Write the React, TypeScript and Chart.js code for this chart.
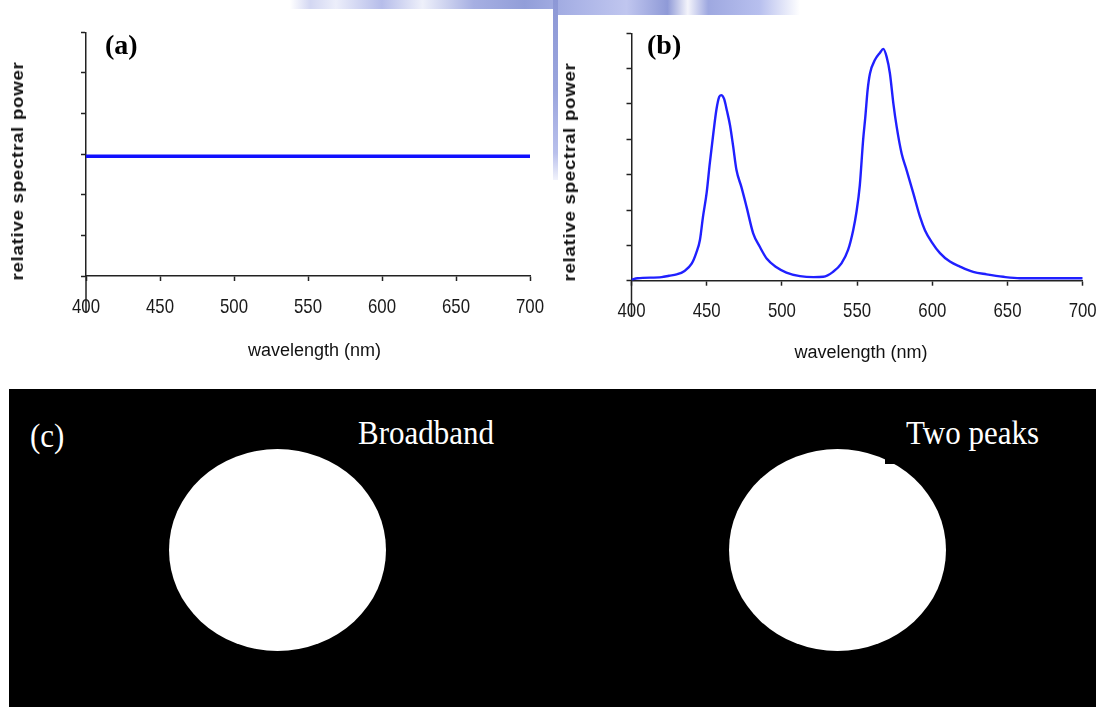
import React, { useEffect, useRef } from 'react';
import { Chart, registerables } from 'chart.js';

Chart.register(...registerables);

// ---------- data ----------
const xTickValues = [400, 450, 500, 550, 600, 650, 700];
const yTicksA = [0, 1, 2, 3, 4, 5, 6];
const yTicksB = [0, 1, 2, 3, 4, 5, 6, 7];

const broadbandNm = [400, 700];
const broadbandPower = [2.95, 2.95];

const twoPeakNm = [
  400, 404, 420, 425, 430, 435, 440, 443, 445.5, 447.5, 450, 452, 454.5, 456.5, 458.3, 459.6,
  461.5, 463.5, 465.5, 467.6, 469.8, 473, 476.5, 480.9, 485.3, 490, 496.4, 503, 512, 521, 527.5,
  534, 539.6, 544, 547.4, 549.6, 551.8, 554, 555.5, 557, 558.6, 561.9, 565.2, 567.4, 569.6,
  571.8, 574.1, 576.3, 579.6, 582.9, 587.4, 591.8, 595.1, 599.5, 605.1, 611.7, 618.4, 627.2,
  636.1, 647.2, 658.3, 676, 700,
];
const twoPeakPower = [
  0.03, 0.07, 0.1, 0.14, 0.18, 0.27, 0.48, 0.78, 1.15, 1.8, 2.5, 3.3, 4.2, 4.85, 5.2, 5.25,
  5.15, 4.8, 4.4, 3.8, 3.13, 2.66, 2.09, 1.34, 0.96, 0.62, 0.38, 0.23, 0.13, 0.1, 0.11,
  0.25, 0.49, 0.87, 1.43, 1.95, 2.7, 3.98, 4.65, 5.4, 5.87, 6.25, 6.45, 6.56, 6.34,
  5.87, 5.02, 4.36, 3.6, 3.13, 2.47, 1.81, 1.43, 1.1, 0.78, 0.54, 0.4, 0.25,
  0.18, 0.11, 0.07, 0.07, 0.07,
];

const yAxisTitle = 'relative spectral power';
const xAxisTitle = 'wavelength (nm)';
const panelLabels = ['(a)', '(b)', '(c)'];
const spotLabels = ['Broadband', 'Two peaks'];

// ---------- chart helpers ----------
const AXIS_COLOR = '#222';
const TICK_FONT = "'Liberation Sans', Arial, sans-serif";

// y axis line continues a little below the x axis (through the "400" label)
const axisExtend = {
  id: 'axisExtend',
  afterDraw(chart: any, _args: any, opts: any) {
    const { ctx, chartArea } = chart;
    ctx.save();
    ctx.strokeStyle = AXIS_COLOR;
    ctx.lineWidth = 1.5;
    ctx.beginPath();
    ctx.moveTo(chartArea.left, chartArea.bottom);
    ctx.lineTo(chartArea.left, chartArea.bottom + (opts.length || 0));
    ctx.stroke();
    ctx.restore();
  },
};

// condensed x tick labels, placed with the chart's x scale
const narrowTickLabels = {
  id: 'narrowTickLabels',
  afterDraw(chart: any, _args: any, opts: any) {
    const { ctx, chartArea } = chart;
    const scale = chart.scales.x;
    ctx.save();
    ctx.font = `${opts.size}px ${TICK_FONT}`;
    ctx.fillStyle = '#1a1a1a';
    ctx.textAlign = 'center';
    ctx.textBaseline = 'alphabetic';
    scale.ticks.forEach((t: any) => {
      const text = String(t.value);
      const w = ctx.measureText(text).width;
      ctx.fillText(text, scale.getPixelForValue(t.value), chartArea.bottom + opts.offset, w * opts.squeeze);
    });
    ctx.restore();
  },
};

type Geo = {
  yAxisWidth: number;
  xAxisHeight: number;
  padRight: number;
  padTop: number;
  extend: number;
  labelOffset: number;
};

function buildConfig(xs: number[], ys: number[], yTicks: number[], color: string, width: number, geo: Geo, smooth: boolean): any {
  return {
    type: 'line',
    data: {
      datasets: [
        {
          data: xs.map((x, i) => ({ x, y: ys[i] })),
          borderColor: color,
          borderWidth: width,
          pointRadius: 0,
          fill: false,
          tension: smooth ? 0.4 : 0,
          cubicInterpolationMode: smooth ? 'monotone' : 'default',
        },
      ],
    },
    options: {
      animation: false,
      responsive: false,
      maintainAspectRatio: false,
      layout: { padding: { left: 0, right: geo.padRight, top: geo.padTop, bottom: 0 } },
      plugins: {
        legend: { display: false },
        tooltip: { enabled: false },
        axisExtend: { length: geo.extend },
        narrowTickLabels: { size: 21, offset: geo.labelOffset, squeeze: 0.8 },
      },
      scales: {
        x: {
          type: 'linear',
          min: xTickValues[0],
          max: xTickValues[xTickValues.length - 1],
          afterBuildTicks: (s: any) => {
            s.ticks = xTickValues.map((v) => ({ value: v }));
          },
          afterFit: (s: any) => {
            s.height = geo.xAxisHeight;
          },
          border: { display: true, color: AXIS_COLOR, width: 1.5 },
          grid: { display: true, drawOnChartArea: false, drawTicks: true, tickLength: 5, tickColor: AXIS_COLOR, tickWidth: 1.5 },
          ticks: { display: false },
        },
        y: {
          type: 'linear',
          min: yTicks[0],
          max: yTicks[yTicks.length - 1],
          afterBuildTicks: (s: any) => {
            s.ticks = yTicks.map((v) => ({ value: v }));
          },
          afterFit: (s: any) => {
            s.width = geo.yAxisWidth;
          },
          border: { display: true, color: AXIS_COLOR, width: 1.5 },
          grid: { display: true, drawOnChartArea: false, drawTicks: true, tickLength: 5, tickColor: AXIS_COLOR, tickWidth: 1.5 },
          ticks: { display: false },
        },
      },
    },
    plugins: [narrowTickLabels, axisExtend],
  };
}

function ChartCanvas(props: { width: number; height: number; config: any }) {
  const ref = useRef<HTMLCanvasElement | null>(null);
  useEffect(() => {
    if (!ref.current) return;
    const chart = new Chart(ref.current, props.config);
    return () => chart.destroy();
  }, []);
  return (
    <canvas
      ref={ref}
      width={props.width}
      height={props.height}
      style={{ display: 'block', width: props.width, height: props.height, background: '#fff' }}
    />
  );
}

const abs = (l: number, t: number, w?: number, h?: number): React.CSSProperties => ({
  position: 'absolute',
  left: l,
  top: t,
  ...(w !== undefined ? { width: w } : {}),
  ...(h !== undefined ? { height: h } : {}),
});

function YTitle(props: { cx: number; cy: number }) {
  return (
    <div
      style={{
        position: 'absolute',
        left: props.cx,
        top: props.cy,
        transform: 'translate(-50%, -50%) rotate(-90deg) scaleX(1.17)',
        whiteSpace: 'nowrap',
        font: "bold 16px 'Liberation Sans', Arial, sans-serif",
        letterSpacing: '0.6px',
        color: '#111',
        lineHeight: '18px',
      }}
    >
      {yAxisTitle}
    </div>
  );
}

function XTitle(props: { cx: number; cy: number }) {
  return (
    <div
      style={{
        position: 'absolute',
        left: props.cx,
        top: props.cy,
        transform: 'translate(-50%, -50%)',
        whiteSpace: 'nowrap',
        font: "18px 'Liberation Sans', Arial, sans-serif",
        color: '#111',
        lineHeight: '20px',
      }}
    >
      {xAxisTitle}
    </div>
  );
}

const panelLabelStyle: React.CSSProperties = {
  font: "bold 28px 'Liberation Serif', 'Times New Roman', serif",
  lineHeight: '28px',
  color: '#000',
  whiteSpace: 'nowrap',
};

const spotTextStyle: React.CSSProperties = {
  font: "31px 'Liberation Serif', 'Times New Roman', serif",
  lineHeight: '31px',
  color: '#fff',
  whiteSpace: 'nowrap',
  transformOrigin: '0 26px',
  transform: 'scaleY(1.1)',
};

export default function App() {
  const geoA: Geo = { yAxisWidth: 86, xAxisHeight: 104, padRight: 23, padTop: 23.3, extend: 37, labelOffset: 37 };
  const geoB: Geo = { yAxisWidth: 73.5, xAxisHeight: 99.3, padRight: 19.3, padTop: 18.3, extend: 36, labelOffset: 36 };
  const cfgA = buildConfig(broadbandNm, broadbandPower, yTicksA, '#1010ff', 3.5, geoA, false);
  const cfgB = buildConfig(twoPeakNm, twoPeakPower, yTicksB, '#2020ff', 2.4, geoB, true);

  return (
    <div style={{ position: 'fixed', left: 0, top: 0, width: 1102, height: 707, background: '#fff', overflow: 'hidden' }}>
      {/* faint background picture at the top */}
      <div
        style={{
          ...abs(290, 0, 510, 16),
          background:
            'linear-gradient(90deg, rgba(255,255,255,1) 0%, #d3d7f2 4%, #eceefa 9%, #b6bdea 18%, #eef0fa 26%, #a6afe2 36%, #929ed9 46%, #aab3e6 56%, #c0c6ef 66%, #8f9ad7 74%, #f4f4fb 78%, #9ea8e0 82%, #b7bfee 92%, rgba(255,255,255,0) 100%)',
        }}
      />
      <div
        style={{
          ...abs(553, 0, 5, 180),
          background: 'linear-gradient(180deg, #8d98d6 0%, #9aa5dd 50%, #b9c0ec 85%, rgba(220,224,245,0.4) 100%)',
        }}
      />

      {/* panel (a) */}
      <div style={{ ...abs(0, 9, 553, 371), background: '#fff' }}>
        <ChartCanvas width={553} height={371} config={cfgA} />
      </div>
      {/* panel (b) */}
      <div style={{ ...abs(558, 15, 544, 365), background: '#fff' }}>
        <ChartCanvas width={544} height={365} config={cfgB} />
      </div>

      <div style={{ ...abs(105, 30.6), ...panelLabelStyle }}>{panelLabels[0]}</div>
      <div style={{ ...abs(647, 30.6), ...panelLabelStyle }}>{panelLabels[1]}</div>

      <YTitle cx={18} cy={171} />
      <YTitle cx={570} cy={171.7} />
      <XTitle cx={314.5} cy={350} />
      <XTitle cx={861} cy={352} />

      {/* panel (c) */}
      <div style={{ ...abs(9, 389, 1087, 318), background: '#000' }} />
      <div style={{ ...abs(169, 449, 217, 202), background: '#fff', borderRadius: '50%' }} />
      <div style={{ ...abs(729, 449, 217, 202), background: '#fff', borderRadius: '50%' }} />
      <div style={{ ...abs(885, 405, 170, 59), background: '#000' }} />
      <div style={{ ...abs(30, 421), ...spotTextStyle }}>{panelLabels[2]}</div>
      <div style={{ ...abs(358, 418), ...spotTextStyle }}>{spotLabels[0]}</div>
      <div style={{ ...abs(906, 418), ...spotTextStyle }}>{spotLabels[1]}</div>
    </div>
  );
}
